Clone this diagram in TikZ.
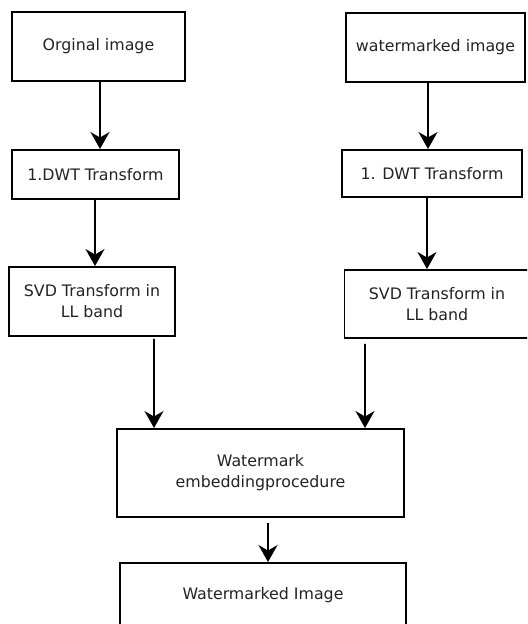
\documentclass[tikz,border=0pt]{standalone}
\usepackage{fontspec}
\setmainfont{DejaVu Sans}
\usepackage{tikz}
\usetikzlibrary{positioning,calc}
\usetikzlibrary{arrows.meta}
\definecolor{BoxText}{RGB}{35,35,35}
\tikzset{
  blk/.style={draw=black,fill=white,line width=1.1pt,align=center,inner sep=2pt,
    font=\fontsize{9}{12}\selectfont,text=BoxText},
  arr/.style={draw=black,line width=1.1pt,-{Stealth[length=3.4mm,width=3.8mm,inset=1.1mm]}},
}

\begin{document}
\begin{tikzpicture}
\clip (0,0) rectangle (10.54,-12.48);
\fill[white] (0,0) rectangle (10.54,-12.48);
% left column
\node[blk,minimum width=3.46cm,minimum height=1.38cm] (orig) at (1.97,-0.93) {Orginal image};
\node[blk,minimum width=3.34cm,minimum height=0.98cm] (dwt1) at (1.91,-3.49) {1.DWT Transform};
\node[blk,minimum width=3.32cm,minimum height=1.38cm] (svd1) at (1.84,-6.03) {SVD Transform in\\LL band};
% right column
\node[blk,minimum width=3.58cm,minimum height=1.38cm] (wm) at (8.71,-0.95) {watermarked image};
\node[blk,minimum width=3.60cm,minimum height=0.94cm] (dwt2) at (8.64,-3.47) {1. DWT Transform};
\node[blk,minimum width=3.70cm,minimum height=1.36cm] (svd2) at (8.74,-6.08) {SVD Transform in\\LL band};
% bottom
\node[blk,minimum width=5.74cm,minimum height=1.76cm] (emb) at (5.21,-9.46) {Watermark\\embeddingprocedure};
\node[blk,minimum width=5.72cm,minimum height=1.28cm] (out) at (5.26,-11.90) {Watermarked Image};
% arrows
\draw[arr] ([xshift=0.03cm]orig.south) -- ([xshift=0.09cm]dwt1.north);
\draw[arr] ([xshift=-0.15cm]wm.south) -- ([xshift=-0.08cm]dwt2.north);
\draw[arr] ([xshift=-0.01cm]dwt1.south) -- ([xshift=0.06cm]svd1.north);
\draw[arr] ([xshift=-0.10cm]dwt2.south) -- ([xshift=-0.20cm]svd2.north);
\draw[arr] ([xshift=1.24cm,yshift=-0.04cm]svd1.south) -- ([xshift=-2.13cm]emb.north);
\draw[arr] ([xshift=-1.44cm,yshift=-0.1cm]svd2.south) -- ([xshift=2.09cm]emb.north);
\draw[arr] ([xshift=0.15cm,yshift=-0.1cm]emb.south) -- ([xshift=0.1cm]out.north);
\end{tikzpicture}
\end{document}
